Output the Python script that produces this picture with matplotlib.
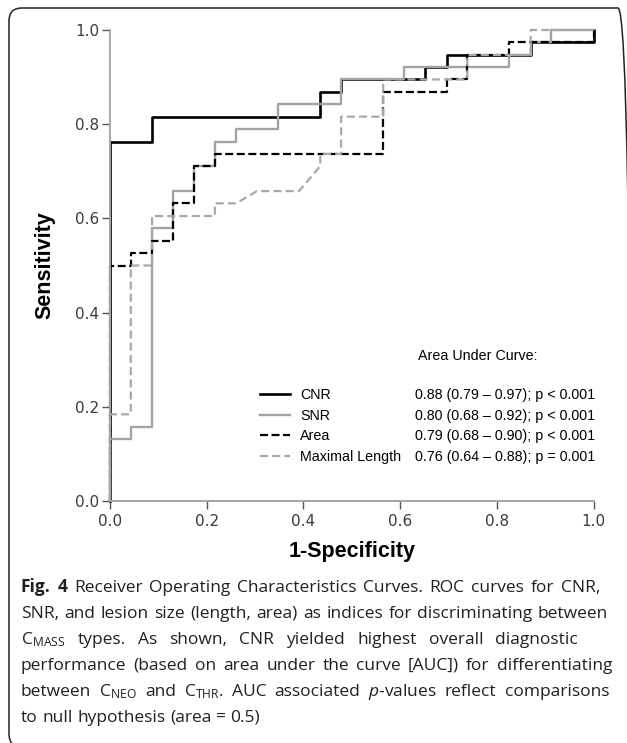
import matplotlib
matplotlib.use("Agg")
import matplotlib.pyplot as plt
from matplotlib import font_manager
from matplotlib.lines import Line2D
from matplotlib.patches import FancyBboxPatch
from matplotlib.transforms import IdentityTransform

# ROC curve vertices (1-specificity, sensitivity)
cnr_fpr = [0, 0, 0.087, 0.087, 0.435, 0.435, 0.478, 0.478, 0.652, 0.652, 0.696, 0.696, 0.870, 0.870, 1.0, 1.0]
cnr_tpr = [0, 0.763, 0.763, 0.816, 0.816, 0.868, 0.868, 0.895, 0.895, 0.921, 0.921, 0.947, 0.947, 0.974, 0.974, 1.0]

snr_fpr = [0, 0, 0.043, 0.043, 0.087, 0.087, 0.130, 0.130, 0.174, 0.174, 0.217, 0.217, 0.261, 0.261,
           0.348, 0.348, 0.478, 0.478, 0.609, 0.609, 0.826, 0.826, 0.870, 0.870, 0.913, 0.913, 1.0]
snr_tpr = [0, 0.132, 0.132, 0.158, 0.158, 0.579, 0.579, 0.658, 0.658, 0.711, 0.711, 0.763, 0.763, 0.789,
           0.789, 0.842, 0.842, 0.895, 0.895, 0.921, 0.921, 0.947, 0.947, 0.974, 0.974, 1.0, 1.0]

area_fpr = [0, 0, 0.043, 0.043, 0.087, 0.087, 0.130, 0.130, 0.174, 0.174, 0.217, 0.217, 0.565, 0.565,
            0.696, 0.696, 0.739, 0.739, 0.826, 0.826, 1.0, 1.0]
area_tpr = [0, 0.5, 0.5, 0.526, 0.526, 0.553, 0.553, 0.632, 0.632, 0.711, 0.711, 0.737, 0.737, 0.868,
            0.868, 0.895, 0.895, 0.947, 0.947, 0.974, 0.974, 1.0]

mlen_fpr = [0, 0, 0.043, 0.043, 0.087, 0.087, 0.217, 0.217, 0.261, 0.304, 0.391, 0.435, 0.435, 0.478,
            0.478, 0.565, 0.565, 0.739, 0.739, 0.870, 0.870, 1.0]
mlen_tpr = [0, 0.184, 0.184, 0.5, 0.5, 0.605, 0.605, 0.632, 0.632, 0.658, 0.658, 0.711, 0.737, 0.737,
            0.816, 0.816, 0.895, 0.895, 0.947, 0.947, 1.0, 1.0]

names = ["CNR", "SNR", "Area", "Maximal Length"]
auc_text = ["0.88 (0.79 \u2013 0.97); p < 0.001",
            "0.80 (0.68 \u2013 0.92); p < 0.001",
            "0.79 (0.68 \u2013 0.90); p < 0.001",
            "0.76 (0.64 \u2013 0.88); p = 0.001"]
ticks = [0.0, 0.2, 0.4, 0.6, 0.8, 1.0]

caption = [
    [("Fig.", True), ("4", True), ("Receiver", False), ("Operating", False), ("Characteristics", False),
     ("Curves.", False), ("ROC", False), ("curves", False), ("for", False), ("CNR,", False)],
    [(w, False) for w in "SNR, and lesion size (length, area) as indices for discriminating between".split()],
    [(w, False) for w in [r"C$_{\mathrm{MASS}}$", "types.", "As", "shown,", "CNR", "yielded", "highest",
                          "overall", "diagnostic"]],
    [(w, False) for w in "performance (based on area under the curve [AUC]) for differentiating".split()],
    [(w, False) for w in ["between", r"C$_{\mathrm{NEO}}$", "and", r"C$_{\mathrm{THR}}$.", "AUC", "associated",
                          r"$\mathit{p}$-values", "reflect", "comparisons"]],
    [(w, False) for w in "to null hypothesis (area = 0.5)".split()],
]
cap_right = [600, 608, 578, 612, 609, None]

avail = {f.name for f in font_manager.fontManager.ttflist}
if "Liberation Sans Narrow" in avail:
    narrow, leg_fs, lab_fs = "Liberation Sans Narrow", 11.5, 18
else:
    narrow, leg_fs, lab_fs = "Liberation Sans", 10.3, 15.5
cap_font = "Open Sans"

plt.rcParams["mathtext.fontset"] = "custom"
plt.rcParams["mathtext.rm"] = cap_font
plt.rcParams["mathtext.it"] = cap_font + ":italic"
plt.rcParams["mathtext.bf"] = cap_font + ":bold"

W, H = 627, 743
fig = plt.figure(figsize=(W / 100, H / 100), dpi=100)
fig.patch.set_facecolor("white")

ax = fig.add_axes([110 / W, 1 - 501 / H, 483.5 / W, 471 / H])
l1, = ax.plot(cnr_fpr, cnr_tpr, color="black", lw=1.9, clip_on=False)
l2, = ax.plot(snr_fpr, snr_tpr, color="#a3a3a3", lw=1.7, clip_on=False)
l3, = ax.plot(area_fpr, area_tpr, color="black", lw=1.6, ls=(0, (3.6, 1.6)), clip_on=False)
l4, = ax.plot(mlen_fpr, mlen_tpr, color="#a8a8a8", lw=1.6, ls=(0, (3.6, 1.9)), clip_on=False)

ax.set_xlim(0, 1)
ax.set_ylim(0, 1)
ax.set_xticks(ticks)
ax.set_yticks(ticks)
ax.set_xticklabels(["%.1f" % t for t in ticks])
ax.set_yticklabels(["%.1f" % t for t in ticks])
for s in ["top", "right"]:
    ax.spines[s].set_visible(False)
for s in ["left", "bottom"]:
    ax.spines[s].set_color("#a6a6a6")
    ax.spines[s].set_linewidth(1.4)
ax.tick_params(direction="out", length=6, width=1.0, color="#555555", labelsize=11,
               labelcolor="#3c3c3c", pad=1.5)
ax.tick_params(axis="x", pad=3)

ax.set_xlabel("1-Specificity", family=narrow, fontweight="bold", fontsize=lab_fs, va="center")
ax.set_ylabel("Sensitivity", family=narrow, fontweight="bold", fontsize=lab_fs, va="center")
ax.xaxis.set_label_coords(0.5, (501 - 551) / 471)
ax.yaxis.set_label_coords((45 - 110) / 483.5, 0.5)

lsp = 0.47 if leg_fs < 11 else 0.33
top = 1 - 388 / H
leg1 = fig.legend([l1, l2, l3, l4], names, loc="upper left",
                  bbox_to_anchor=(260 / W, top), frameon=False,
                  prop={"family": narrow, "size": leg_fs}, handlelength=30 / (leg_fs * 100 / 72),
                  handletextpad=10 / (leg_fs * 100 / 72),
                  labelspacing=lsp, borderpad=0, borderaxespad=0)
blank = [Line2D([], [], ls="none") for _ in auc_text]
leg2 = fig.legend(blank, auc_text, loc="upper left",
                  bbox_to_anchor=(415 / W, top), frameon=False,
                  prop={"family": narrow, "size": leg_fs}, handlelength=0, handletextpad=0,
                  labelspacing=lsp, borderpad=0, borderaxespad=0)
fig.text(418 / W, 1 - 356 / H, "Area Under Curve:", family=narrow, fontsize=leg_fs,
         va="center", ha="left")

# rounded frame round the whole figure
frame = FancyBboxPatch((9, -4), 622, H - 8 + 4, boxstyle="round,pad=0,rounding_size=13",
                       transform=IdentityTransform(), fill=False, ec="#222222", lw=1.1)
fig.add_artist(frame)

# justified caption, word by word
cap_fs = 12.5
cap_col = "#231f20"
cap_left = 21
cap_base = [592, 618, 644, 670, 696, 722]
fig.canvas.draw()
rend = fig.canvas.get_renderer()
for words, right, base in zip(caption, cap_right, cap_base):
    arts = []
    for w, bold in words:
        t = fig.text(0, 1 - base / H, w, family=cap_font, fontsize=cap_fs, color=cap_col,
                     fontweight="bold" if bold else "normal", va="baseline", ha="left")
        arts.append(t)
    widths = [a.get_window_extent(renderer=rend).width for a in arts]
    if right is None:
        gap = 0.26 * cap_fs * 100 / 72
    else:
        gap = (right - cap_left - sum(widths)) / (len(arts) - 1)
    x = cap_left
    for a, wd in zip(arts, widths):
        a.set_x(x / W)
        x += wd + gap

fig.savefig("out.png", dpi=100)
